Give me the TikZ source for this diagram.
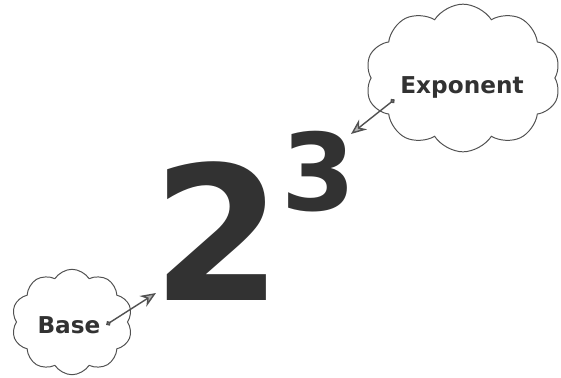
\documentclass[tikz,border=0pt]{standalone}
\usepackage{fontspec}
\setmainfont{DejaVu Sans}
\usepackage{xcolor}
\usepackage{tikz}
\usetikzlibrary{shapes.symbols, arrows.meta}

\definecolor{ink}{RGB}{50,50,50}

\begin{document}
\begin{tikzpicture}[x=0.025cm, y=-0.025cm,
  puff/.style={cloud, draw=ink!85, line width=0.7pt, cloud puffs=10,
    cloud puff arc=115, cloud ignores aspect, inner sep=0pt},
  word/.style={font=\bfseries\fontsize{16.5}{16.5}\selectfont, text=ink, inner sep=1pt},
  pointer/.style={draw=ink!85, line width=1pt,
    {Circle[length=3.5pt, fill=gray]}-{Stealth[length=11pt, width=9pt, fill=gray!60]}}]

\useasboundingbox (0,0) rectangle (561,377);

\coordinate (basetip) at (156,293);
\coordinate (exptip) at (351,134);

\node[puff, minimum width=86pt, minimum height=75pt] (basecloud) at (72,322) {};
\node[puff, minimum width=139pt, minimum height=105pt] (expcloud) at (463,78) {};

\node[word, anchor=base] (basetxt) at (69,333) {Base};
\node[word, anchor=base] (exptxt) at (462,93) {Exponent};

\node[anchor=base, inner sep=0pt, text=ink,
  font=\bfseries\fontsize{133}{133}\selectfont] (two) at (218,300) {2};
\node[anchor=base, inner sep=0pt, text=ink,
  font=\bfseries\fontsize{76}{76}\selectfont] (three) at (319,210) {3};

\draw[pointer] ([xshift=3pt]basetxt.east) -- (basetip);
\draw[pointer] ([xshift=-3pt]exptxt.south west) -- (exptip);

\end{tikzpicture}
\end{document}
